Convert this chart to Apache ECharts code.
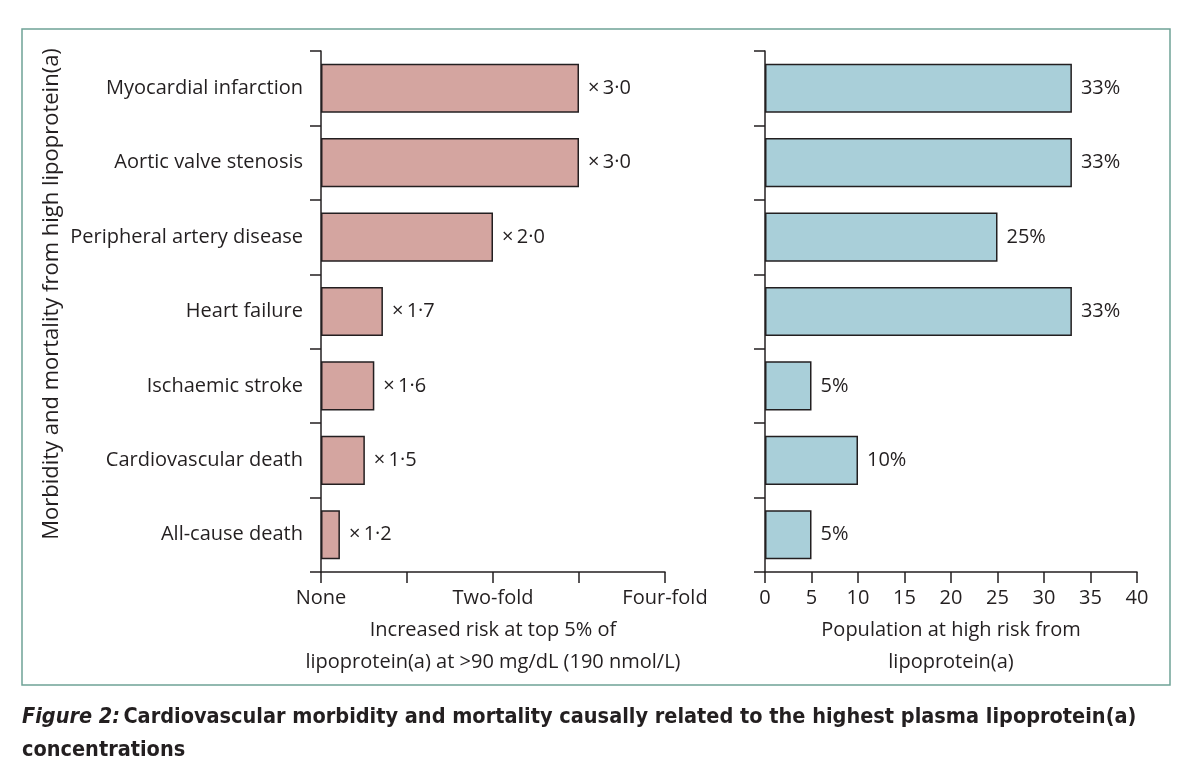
<!DOCTYPE html>
<html>
<head>
<meta charset="utf-8">
<script src="https://cdn.jsdelivr.net/npm/echarts@6/dist/echarts.min.js"></script>
<style>
html,body{margin:0;padding:0;background:#fff;}
#chart{width:1200px;height:768px;}
</style>
</head>
<body>
<div id="chart"></div>
<script>
const categories = ['Myocardial infarction','Aortic valve stenosis','Peripheral artery disease','Heart failure','Ischaemic stroke','Cardiovascular death','All-cause death'];
const riskValues = [3.0, 3.0, 2.0, 1.7, 1.6, 1.5, 1.2];
const riskBarLength = [3.0, 3.0, 2.0, 0.72, 0.62, 0.51, 0.22];
const riskTickLabels = ['None','','Two-fold','','Four-fold'];
const populationPct = [33, 33, 25, 33, 5, 10, 5];
const yAxisTitle = 'Morbidity and mortality from high lipoprotein(a)';
const leftXTitle = 'Increased risk at top 5% of\nlipoprotein(a) at >90 mg/dL (190 nmol/L)';
const rightXTitle = 'Population at high risk from\nlipoprotein(a)';
const captionLead = 'Figure 2:';
const captionLine1 = 'Cardiovascular morbidity and mortality causally related to the highest plasma lipoprotein(a)';
const captionLine2 = 'concentrations';

const FONT = 'Open Sans';
const CAPFONT = 'DejaVu Sans Condensed';
const TXT = '#231f20';
const FS = 20;
const CAPFS = 21.5;

const chart = echarts.init(document.getElementById('chart'), null, {renderer:'canvas'});

const yAxisCommon = {
  type:'category', data:categories, inverse:true,
  axisLine:{show:true, lineStyle:{color:TXT, width:1.5}},
  axisTick:{show:true, alignWithLabel:false, length:11, lineStyle:{color:TXT, width:1.5}},
  splitLine:{show:false}
};
const xAxisCommon = {
  type:'value',
  axisLine:{show:true, lineStyle:{color:TXT, width:1.5}},
  axisTick:{show:true, length:11, lineStyle:{color:TXT, width:1.5}},
  splitLine:{show:false},
  axisLabel:{color:TXT, fontFamily:FONT, fontSize:FS, margin:16}
};
const nameStyle = {color:TXT, fontFamily:FONT, fontSize:FS, lineHeight:32, verticalAlign:'top'};

chart.setOption({
  animation:false,
  grid:[
    {left:321, width:344, top:51, height:521},
    {left:765, width:372, top:51, height:521}
  ],
  xAxis:[
    Object.assign({}, xAxisCommon, {gridIndex:0, min:0, max:4, interval:1,
      axisLabel:Object.assign({}, xAxisCommon.axisLabel, {formatter:(v)=>riskTickLabels[Math.round(v)] || ''}),
      name:leftXTitle, nameLocation:'middle', nameGap:42, nameTextStyle:nameStyle}),
    Object.assign({}, xAxisCommon, {gridIndex:1, min:0, max:40, interval:5,
      name:rightXTitle, nameLocation:'middle', nameGap:42, nameTextStyle:nameStyle})
  ],
  yAxis:[
    Object.assign({}, yAxisCommon, {gridIndex:0,
      axisLabel:{color:TXT, fontFamily:FONT, fontSize:FS, margin:18}}),
    Object.assign({}, yAxisCommon, {gridIndex:1, axisLabel:{show:false}})
  ],
  series:[
    {type:'bar', xAxisIndex:0, yAxisIndex:0, data:riskBarLength, barCategoryGap:'34%',
      itemStyle:{color:'#d4a5a0', borderColor:TXT, borderWidth:1.5},
      label:{show:true, position:'right', distance:9, color:TXT, fontFamily:FONT, fontSize:FS,
        formatter:(p)=>'×\u2009' + riskValues[p.dataIndex].toFixed(1).replace('.', '·')}},
    {type:'bar', xAxisIndex:1, yAxisIndex:1, data:populationPct, barCategoryGap:'34%',
      itemStyle:{color:'#a9cfd9', borderColor:TXT, borderWidth:1.5},
      label:{show:true, position:'right', distance:9, color:TXT, fontFamily:FONT, fontSize:FS,
        formatter:(p)=>p.value + '%'}}
  ],
  graphic:[
    {type:'rect', shape:{x:22, y:29, width:1148, height:656}, z:-10,
      style:{fill:'none', stroke:'#6fa397', lineWidth:1.5}},
    {type:'text', x:52, y:294, rotation:Math.PI/2,
      style:{text:yAxisTitle, fill:TXT, font:'22px "'+FONT+'"', align:'center', verticalAlign:'middle'}},
    {type:'text', x:22, y:717,
      style:{rich:{
        a:{fontFamily:CAPFONT, fontSize:CAPFS, fontWeight:'bold', fontStyle:'italic', fill:TXT},
        b:{fontFamily:CAPFONT, fontSize:CAPFS, fontWeight:'bold', fill:TXT}
      }, text:'{a|' + captionLead + '} {b|' + captionLine1 + '}', verticalAlign:'middle'}},
    {type:'text', x:22, y:750,
      style:{text:captionLine2, fontFamily:CAPFONT, fontSize:CAPFS, fontWeight:'bold', fill:TXT, verticalAlign:'middle'}}
  ]
});
</script>
</body>
</html>
